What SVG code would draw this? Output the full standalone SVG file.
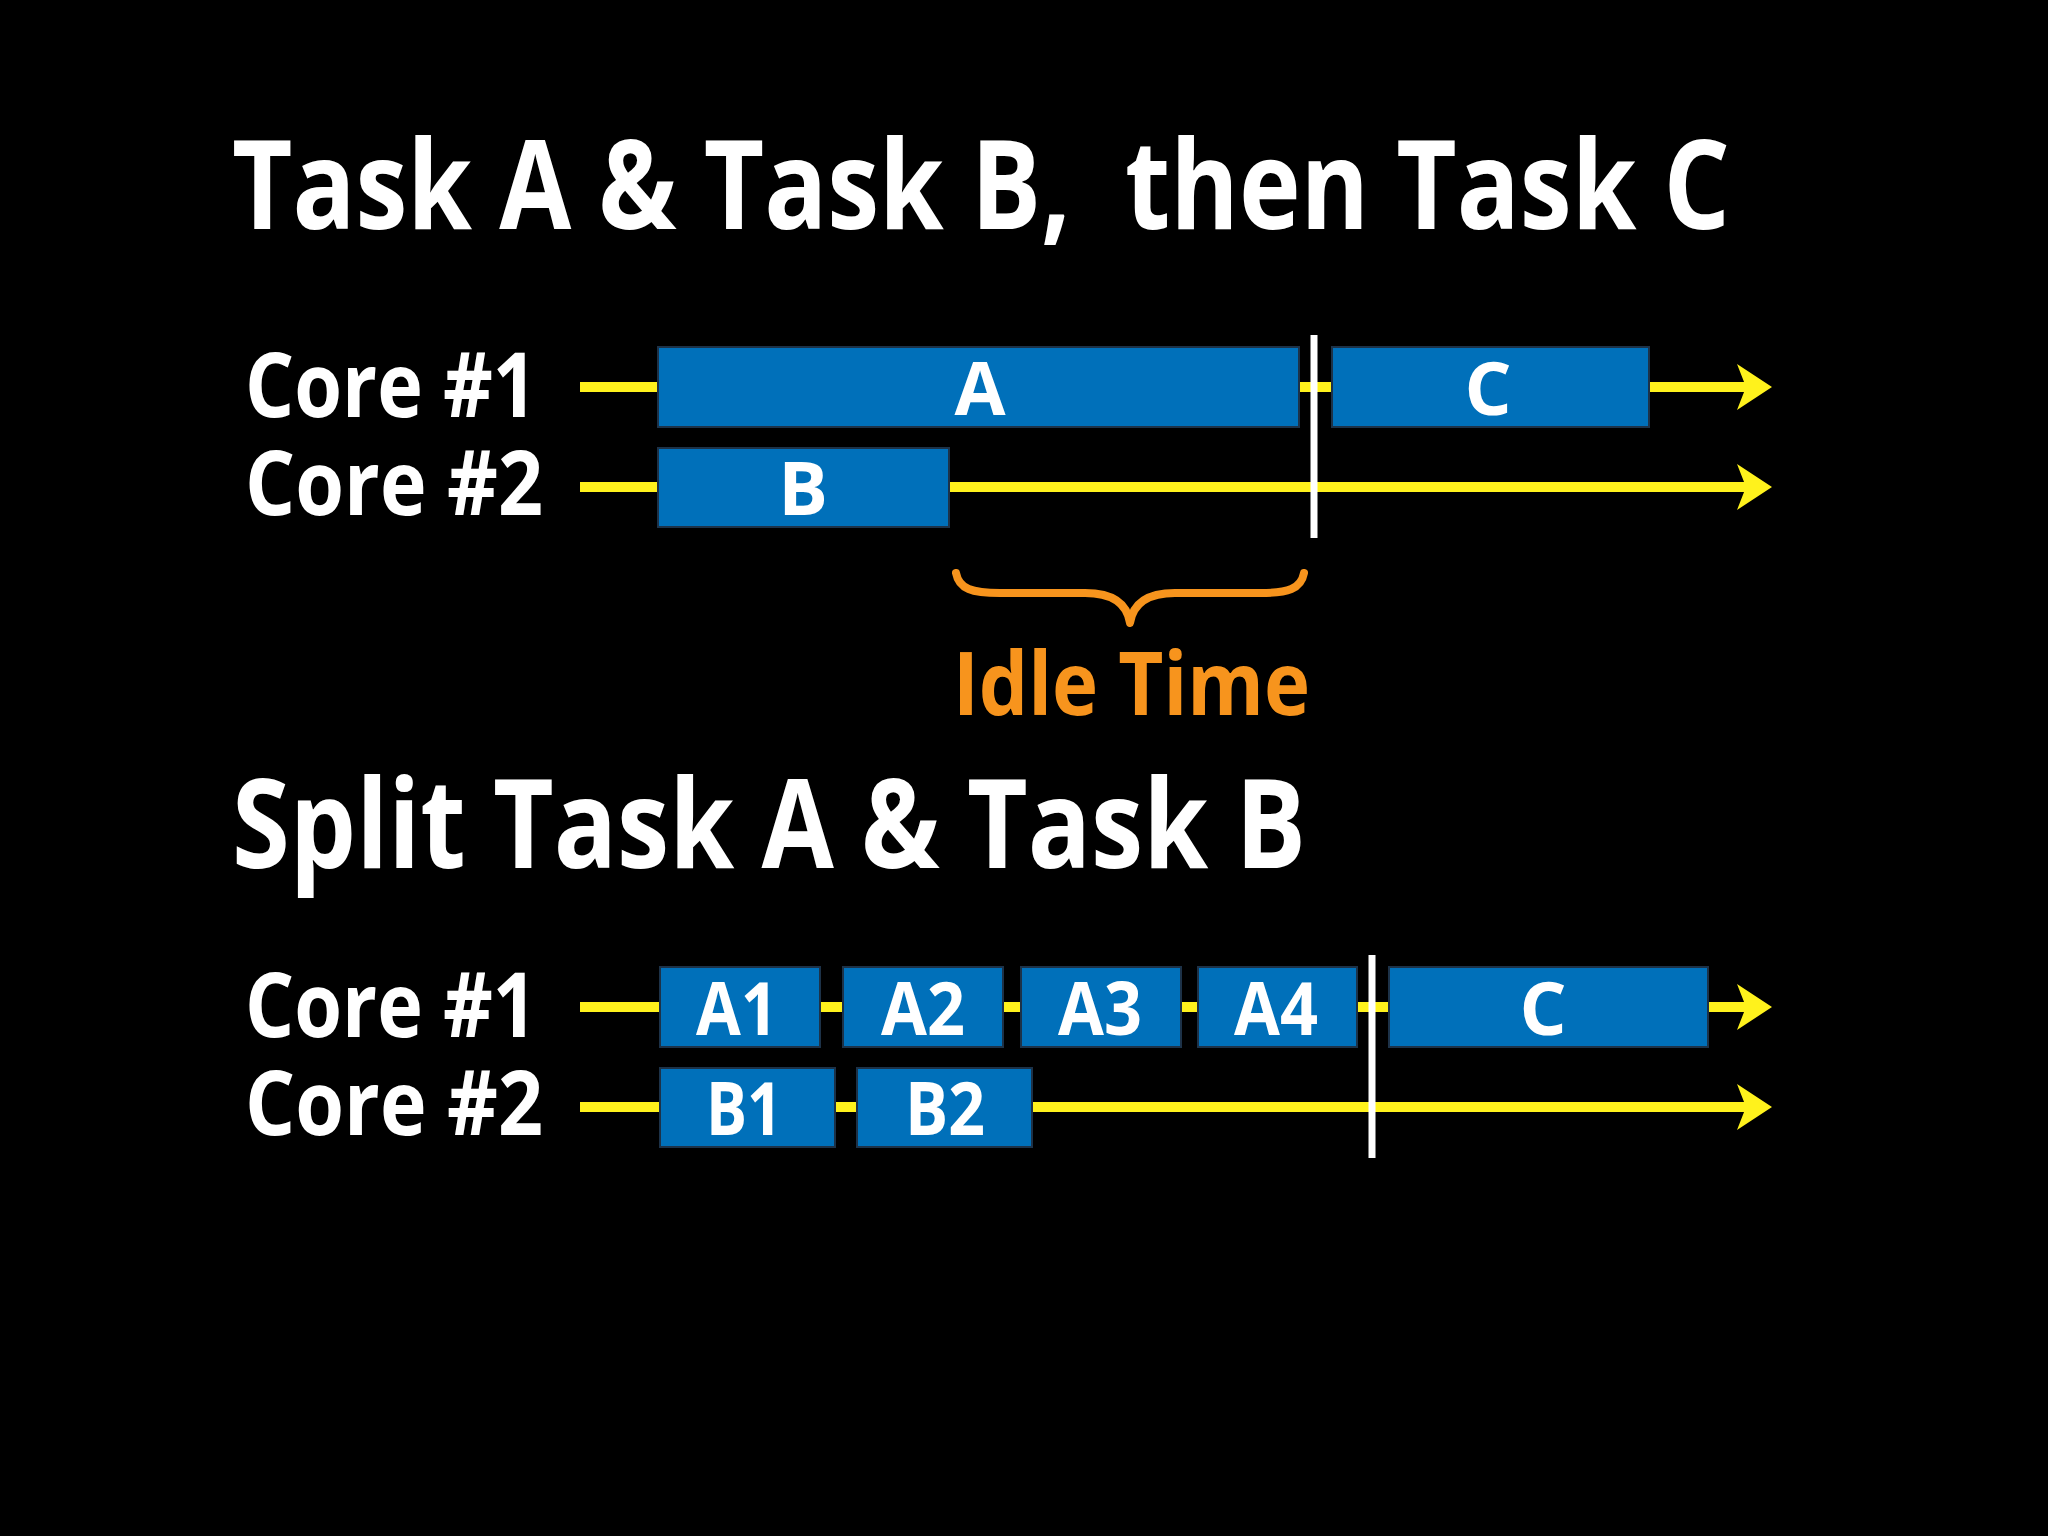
<svg xmlns="http://www.w3.org/2000/svg" width="2048" height="1536" viewBox="0 0 2048 1536">
<style>
.bg{fill:#000}
.t{font-family:"Open Sans","Noto Sans","DejaVu Sans",sans-serif;font-weight:700;fill:#fff}
.h{font-size:124px}
.core{font-size:90px}
.lbl{font-size:74px;text-anchor:middle}
.box{fill:#0070BA;stroke:#1d3248;stroke-width:2}
.yl{stroke:#FFF21C;stroke-width:10;fill:none}
.ah{fill:#FFF21C}
.sep{stroke:#fff;stroke-width:7}
.idle{fill:#F7941D;font-size:88px}
.brace{stroke:#F7941D;stroke-width:8;fill:none;stroke-linecap:round;stroke-linejoin:round}
</style>
<rect class="bg" x="0" y="0" width="2048" height="1536"/>

<text class="t h" x="232" y="229" textLength="1498" lengthAdjust="spacingAndGlyphs" style="white-space:pre">Task A &amp; Task B,  then Task C</text>

<g id="connectors">
  <line class="yl" x1="580" y1="387" x2="1746" y2="387"/>
  <polygon class="ah" points="1737,364 1772,387 1737,410 1746,387"/>
  <line class="yl" x1="580" y1="487" x2="1746" y2="487"/>
  <polygon class="ah" points="1737,464 1772,487 1737,510 1746,487"/>
  <line class="yl" x1="580" y1="1007" x2="1746" y2="1007"/>
  <polygon class="ah" points="1737,984 1772,1007 1737,1030 1746,1007"/>
  <line class="yl" x1="580" y1="1107" x2="1746" y2="1107"/>
  <polygon class="ah" points="1737,1084 1772,1107 1737,1130 1746,1107"/>
</g>

<g id="core1-top"><text class="t core" x="245" y="417" textLength="292" lengthAdjust="spacingAndGlyphs">Core #1</text></g>
<g id="core2-top"><text class="t core" x="245" y="515" textLength="298" lengthAdjust="spacingAndGlyphs">Core #2</text></g>

<g id="taskA"><rect class="box" x="658" y="347" width="641" height="80"/><text class="t lbl" x="980" y="415">A</text></g>
<g id="taskC"><rect class="box" x="1332" y="347" width="317" height="80"/><text class="t lbl" x="1488" y="415">C</text></g>
<g id="taskB"><rect class="box" x="658" y="448" width="291" height="79"/><text class="t lbl" x="803" y="515">B</text></g>

<line class="sep" x1="1314" y1="335" x2="1314" y2="538"/>

<g id="idle">
  <path class="brace" d="M956,573 C959,589 972,593 1000,593 L1085,593 C1112,593 1127,603 1130,623 C1133,603 1148,593 1175,593 L1260,593 C1288,593 1301,589 1304,573"/>
  <text class="t idle" x="953" y="715" textLength="357" lengthAdjust="spacingAndGlyphs">Idle Time</text>
</g>

<text class="t h" x="232" y="868" textLength="1074" lengthAdjust="spacingAndGlyphs">Split Task A &amp; Task B</text>

<g id="core1-bottom"><text class="t core" x="245" y="1037" textLength="292" lengthAdjust="spacingAndGlyphs">Core #1</text></g>
<g id="core2-bottom"><text class="t core" x="245" y="1135" textLength="298" lengthAdjust="spacingAndGlyphs">Core #2</text></g>

<g id="taskA1"><rect class="box" x="660" y="967" width="160" height="80"/><text class="t lbl" x="737" y="1035" textLength="82" lengthAdjust="spacingAndGlyphs">A1</text></g>
<g id="taskA2"><rect class="box" x="843" y="967" width="160" height="80"/><text class="t lbl" x="923" y="1035" textLength="84" lengthAdjust="spacingAndGlyphs">A2</text></g>
<g id="taskA3"><rect class="box" x="1021" y="967" width="160" height="80"/><text class="t lbl" x="1100" y="1035" textLength="84" lengthAdjust="spacingAndGlyphs">A3</text></g>
<g id="taskA4"><rect class="box" x="1198" y="967" width="159" height="80"/><text class="t lbl" x="1276" y="1035" textLength="84" lengthAdjust="spacingAndGlyphs">A4</text></g>
<g id="taskC2"><rect class="box" x="1389" y="967" width="319" height="80"/><text class="t lbl" x="1543" y="1035">C</text></g>
<g id="taskB1"><rect class="box" x="660" y="1068" width="175" height="79"/><text class="t lbl" x="744" y="1135" textLength="76" lengthAdjust="spacingAndGlyphs">B1</text></g>
<g id="taskB2"><rect class="box" x="857" y="1068" width="175" height="79"/><text class="t lbl" x="945" y="1135" textLength="80" lengthAdjust="spacingAndGlyphs">B2</text></g>

<line class="sep" x1="1372" y1="955" x2="1372" y2="1158"/>
</svg>
